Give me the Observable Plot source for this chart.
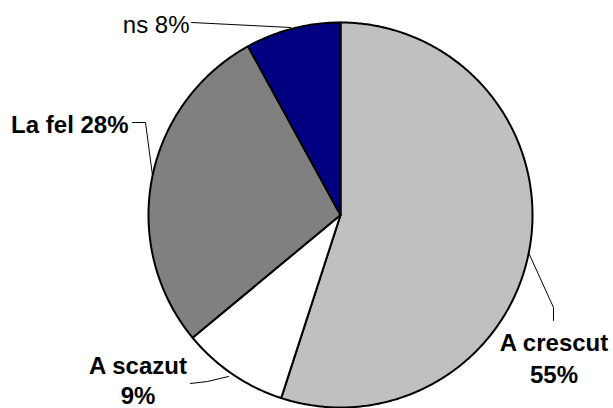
<!DOCTYPE html>
<html>
<head>
<meta charset="utf-8">
<script src="https://cdn.jsdelivr.net/npm/d3@7"></script>
<script src="https://cdn.jsdelivr.net/npm/@observablehq/plot@0.6"></script>
<style>
  html, body { margin: 0; padding: 0; background: #fff; }
  #chart svg { display: block; }
</style>
</head>
<body>
<div id="chart"></div>
<script>
// ---- data ----
const categories = ["A crescut", "A scazut", "La fel", "ns"];
const values = [55, 9, 28, 8];
const labelNames = ["A crescut", "A scazut", "La fel", "ns"];

// ---- styles ----
const colors = ["#c0c0c0", "#ffffff", "#808080", "#000080"];

// ---- layout (pixels, converted to data units) ----
const W = 613, H = 408;
const pieLeft = 148, pieRight = 532, pieTop = 22, pieBottom = 407;
const cxp = (pieLeft + pieRight) / 2, cyp = (pieTop + pieBottom) / 2;
const rxp = (pieRight - pieLeft) / 2, ryp = (pieBottom - pieTop) / 2;
const X = p => (p - cxp) / rxp;
const Y = p => (cyp - p) / ryp;

// slices: start at 12 o'clock, clockwise
const total = d3.sum(values);
const slices = [];
let acc = 0;
categories.forEach((c, i) => {
  const a0 = acc / total * 2 * Math.PI;
  acc += values[i];
  const a1 = acc / total * 2 * Math.PI;
  const pts = [{cat: c, x: 0, y: 0}];
  const n = Math.max(2, Math.ceil((a1 - a0) / (Math.PI / 360)));
  for (let k = 0; k <= n; k++) {
    const a = a0 + (a1 - a0) * k / n;
    pts.push({cat: c, x: Math.sin(a), y: Math.cos(a)});
  }
  slices.push(pts);
});

const pct = v => `${v}%`;
const labels = [
  {text: `${labelNames[0]}\n${pct(values[0])}`, x: X(553.5), y: Y(382), anchor: "middle", weight: "bold", lh: 1.33},
  {text: `${labelNames[1]}\n${pct(values[1])}`, x: X(137.5), y: Y(403), anchor: "middle", weight: "bold", lh: 1.22},
  {text: `${labelNames[2]} ${pct(values[2])}`, x: X(128), y: Y(132), anchor: "end", weight: "bold", lh: 1.2},
  {text: `${labelNames[3]} ${pct(values[3])}`, x: X(189), y: Y(32), anchor: "end", weight: "normal", lh: 1.2}
];

const leaders = [
  [[528, 252], [553, 307], [553, 320]],
  [[190, 383], [207, 381], [228, 376]],
  [[132, 122], [145, 122], [152, 175]],
  [[191, 22], [290, 27]]
].map((ln, i) => ln.map(([px, py]) => ({id: i, x: X(px), y: Y(py)})));

const marks = [];
slices.forEach((pts, i) => {
  marks.push(Plot.line(pts, {
    x: "x", y: "y", fill: colors[i], stroke: "#000", strokeWidth: 2,
    curve: "linear-closed", strokeLinejoin: "round"
  }));
});
marks.push(Plot.line(leaders.flat(), {x: "x", y: "y", z: "id", stroke: "#000", strokeWidth: 1}));
labels.forEach(l => {
  marks.push(Plot.text([l], {
    x: "x", y: "y", text: "text", textAnchor: l.anchor, lineAnchor: "bottom",
    lineHeight: l.lh, fontSize: 24, fontWeight: l.weight, fill: "#000"
  }));
});

const chart = Plot.plot({
  width: W, height: H,
  marginLeft: pieLeft, marginRight: W - pieRight, marginTop: pieTop, marginBottom: H - pieBottom,
  x: {domain: [-1, 1], axis: null},
  y: {domain: [-1, 1], axis: null},
  style: {fontFamily: "'Liberation Sans', Arial, sans-serif", background: "#fff", overflow: "visible"},
  marks
});
document.getElementById("chart").appendChild(chart);
</script>
</body>
</html>
